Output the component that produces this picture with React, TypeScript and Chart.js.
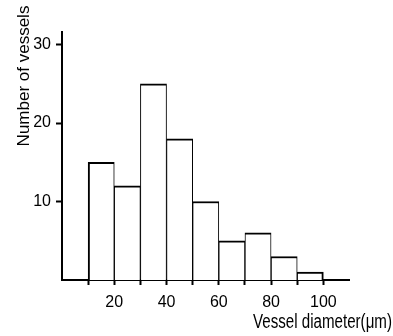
import React, { useEffect, useRef } from 'react';
import { Chart, registerables } from 'chart.js';

Chart.register(...registerables);

// Histogram bins (lower edge, µm) and counts
const binStarts = [10, 20, 30, 40, 50, 60, 70, 80, 90];
const binWidth = 10;
const counts = [15, 12, 25, 18, 10, 5, 6, 3, 1];

// Axis ticks
const xTickValues = [10, 20, 30, 40, 50, 60, 70, 80, 90, 100];
const xLabelValues = [20, 40, 60, 80, 100];
const yTickValues = [10, 20, 30];
const xMin = 0;
const xMax = 110;
const yMin = 0;
const yMax = 31.6;

const xTitle = 'Vessel diameter(μm)';
const yTitle = 'Number of vessels';

const FONT = '"Liberation Sans", Arial, sans-serif';

const titlesPlugin = {
  id: 'axisTitlesCustom',
  afterDraw(chart: any) {
    const ctx = chart.ctx;
    ctx.save();
    ctx.fillStyle = '#000';
    // x title: right-aligned, condensed to match the original lettering
    ctx.font = `20px ${FONT}`;
    ctx.textAlign = 'left';
    ctx.textBaseline = 'alphabetic';
    const w = ctx.measureText(xTitle).width;
    const targetW = 139;
    const sx = Math.min(1, targetW / w);
    ctx.save();
    ctx.translate(392 - w * sx, 328);
    ctx.scale(sx, 1);
    ctx.fillText(xTitle, 0, 0);
    ctx.restore();
    // y title: rotated
    ctx.font = `17px ${FONT}`;
    ctx.translate(29, 76);
    ctx.rotate(-Math.PI / 2);
    ctx.textAlign = 'center';
    ctx.fillText(yTitle, 0, 0);
    ctx.restore();
  },
};

export default function App() {
  const canvasRef = useRef<HTMLCanvasElement | null>(null);

  useEffect(() => {
    if (!canvasRef.current) return;
    const data = binStarts.map((s, i) => ({ x: s + binWidth / 2, y: counts[i] }));
    const n = data.length;
    const chart = new Chart(canvasRef.current, {
      type: 'bar',
      data: {
        datasets: [
          {
            data,
            backgroundColor: '#ffffff',
            borderColor: '#000000',
            borderWidth: (ctx: any) => ({
              top: 2,
              bottom: 0,
              left: ctx.dataIndex === 0 ? 2 : 1,
              right: ctx.dataIndex === n - 1 ? 2 : 1,
            }),
            borderSkipped: 'start',
            barPercentage: 1,
            categoryPercentage: 1,
          } as any,
        ],
      },
      options: {
        animation: false,
        responsive: false,
        maintainAspectRatio: false,
        layout: { padding: { left: 0, top: 32, right: 43.5, bottom: 0 } },
        plugins: {
          legend: { display: false },
          tooltip: { enabled: false },
        },
        scales: {
          x: {
            type: 'linear',
            min: xMin,
            max: xMax,
            offset: false,
            afterFit: (scale: any) => {
              scale.height = 56;
            },
            afterBuildTicks: (scale: any) => {
              scale.ticks = xTickValues.map((v) => ({ value: v }));
            },
            grid: {
              display: true,
              offset: false,
              drawOnChartArea: false,
              drawTicks: true,
              tickLength: 5,
              tickWidth: 2,
              tickColor: '#000',
            },
            border: { display: true, color: '#000', width: 2 },
            ticks: {
              autoSkip: false,
              maxRotation: 0,
              padding: 8,
              color: '#000',
              font: { family: FONT, size: 16 },
              callback: (v: any) => (xLabelValues.includes(Number(v)) ? String(v) : ''),
            },
          },
          y: {
            type: 'linear',
            min: yMin,
            max: yMax,
            afterFit: (scale: any) => {
              scale.width = 62;
            },
            afterBuildTicks: (scale: any) => {
              scale.ticks = yTickValues.map((v) => ({ value: v }));
            },
            grid: {
              display: true,
              drawOnChartArea: false,
              drawTicks: true,
              tickLength: 6,
              tickWidth: 2,
              tickColor: '#000',
            },
            border: { display: true, color: '#000', width: 2 },
            ticks: {
              padding: 5,
              color: '#000',
              font: { family: FONT, size: 16 },
              callback: (v: any) => String(v),
            },
          },
        },
      },
      plugins: [titlesPlugin],
    });
    return () => chart.destroy();
  }, []);

  return (
    <div style={{ position: 'fixed', left: 0, top: 0, width: 393, height: 336, background: '#fff' }}>
      <canvas ref={canvasRef} width={393} height={336} style={{ width: 393, height: 336, display: 'block' }} />
    </div>
  );
}
